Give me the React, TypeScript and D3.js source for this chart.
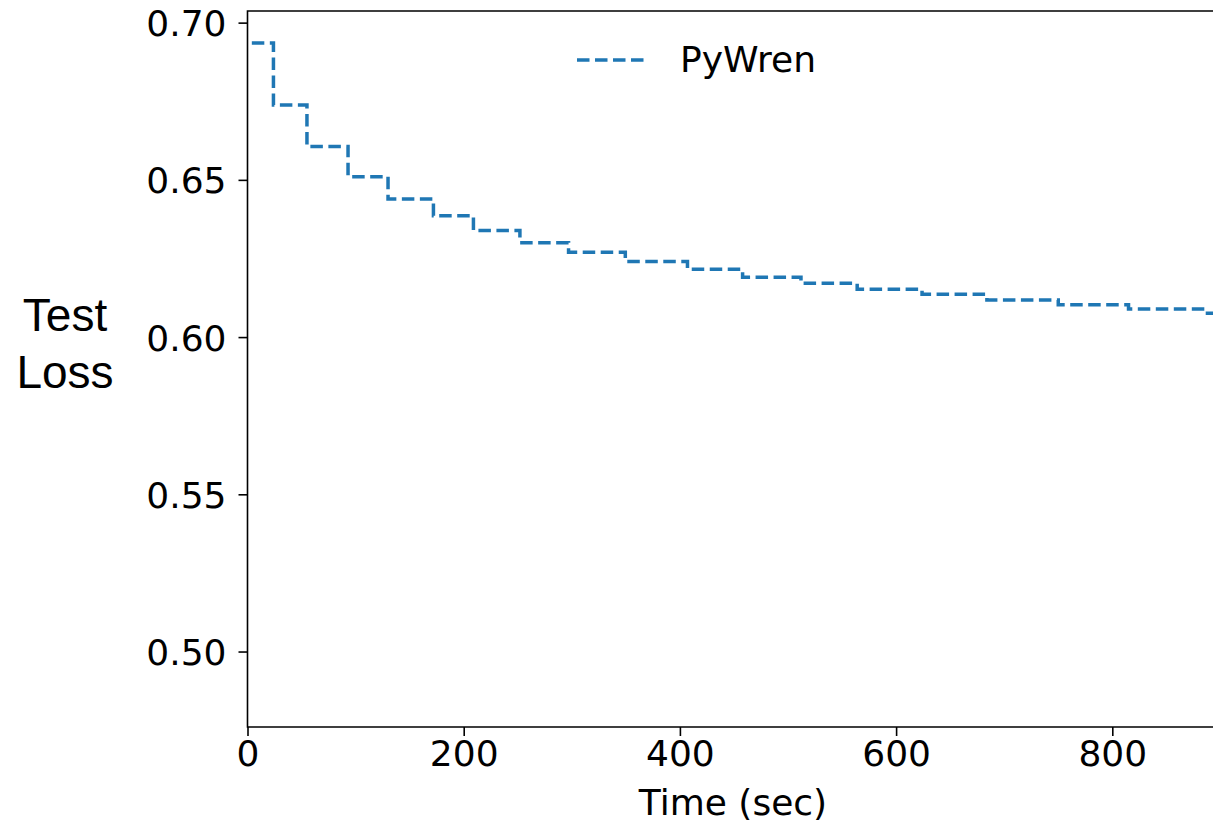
import React, { useRef, useEffect } from "react";
import * as d3 from "d3";

// step times (sec) and test loss after each step
const times = [4, 24, 55, 93, 130, 172, 209, 252, 297, 349.5, 407, 458, 512, 564, 624, 684, 750, 815, 883.5, 900];
const losses = [0.6935, 0.6738, 0.6606, 0.651, 0.6439, 0.6386, 0.6339, 0.63, 0.627, 0.624, 0.6216, 0.619, 0.6171, 0.6152, 0.6136, 0.6118, 0.6103, 0.6089, 0.6076, 0.6076];
const xTicks = [0, 200, 400, 600, 800];
const yTicks = [0.5, 0.55, 0.6, 0.65, 0.7];
const seriesName = "PyWren";

export default function App() {
  const ref = useRef<SVGSVGElement>(null);

  useEffect(() => {
    const width = 1213;
    const height = 824;
    const margin = { top: 11, right: -2, bottom: 97, left: 247.5 };
    const svg = d3.select(ref.current);
    svg.selectAll("*").remove();

    const x = d3
      .scaleLinear()
      .domain([0, 895])
      .range([margin.left, width - margin.right]);
    const y = d3
      .scaleLinear()
      .domain([0.476, 0.7037])
      .range([height - margin.bottom, margin.top]);

    const data = times.map((t, i) => ({ t, v: losses[i] }));

    svg
      .append("clipPath")
      .attr("id", "plot-clip")
      .append("rect")
      .attr("x", margin.left)
      .attr("y", margin.top)
      .attr("width", width - margin.left - margin.right)
      .attr("height", height - margin.top - margin.bottom);

    const line = d3
      .line<{ t: number; v: number }>()
      .x((d) => x(d.t))
      .y((d) => y(d.v))
      .curve(d3.curveStepAfter);

    svg
      .append("path")
      .datum(data)
      .attr("clip-path", "url(#plot-clip)")
      .attr("fill", "none")
      .attr("stroke", "#1f77b4")
      .attr("stroke-width", 3.5)
      .attr("stroke-dasharray", "12.5,5.5")
      .attr("d", line);

    // Axes
    const xAxis = svg
      .append("g")
      .attr("transform", `translate(0,${height - margin.bottom})`)
      .call(d3.axisBottom(x).tickValues(xTicks).tickSize(9).tickPadding(12).tickFormat(d3.format("d")));
    const yAxis = svg
      .append("g")
      .attr("transform", `translate(${margin.left},0)`)
      .call(d3.axisLeft(y).tickValues(yTicks).tickSize(9).tickPadding(12).tickFormat(d3.format(".2f")));

    [xAxis, yAxis].forEach((g) => {
      g.select(".domain").remove();
      g.selectAll("line").attr("stroke", "#000").attr("stroke-width", 1.6);
      g.selectAll("text")
        .attr("fill", "#000")
        .style("font-family", "DejaVu Sans")
        .style("font-size", "36px");
    });
    xAxis.selectAll("text").attr("dy", "0.5em");
    yAxis.selectAll("text").attr("dy", "0.36em");

    // Spines (left, bottom, top)
    svg
      .append("path")
      .attr("fill", "none")
      .attr("stroke", "#000")
      .attr("stroke-width", 1.6)
      .attr(
        "d",
        `M${width + 2},${margin.top}H${margin.left}V${height - margin.bottom}H${width + 2}`
      );

    // Legend
    svg
      .append("line")
      .attr("x1", 577)
      .attr("x2", 647)
      .attr("y1", 60)
      .attr("y2", 60)
      .attr("stroke", "#1f77b4")
      .attr("stroke-width", 3.5)
      .attr("stroke-dasharray", "12.5,5.5");
    svg
      .append("text")
      .attr("x", 680)
      .attr("y", 72)
      .style("font-family", "DejaVu Sans")
      .style("font-size", "36px")
      .text(seriesName);

    // X Axis Label
    svg
      .append("text")
      .attr("x", 733)
      .attr("y", 815)
      .attr("text-anchor", "middle")
      .style("font-family", "DejaVu Sans")
      .style("font-size", "36px")
      .text("Time (sec)");

    // Y Axis Label
    const yl = svg
      .append("text")
      .attr("text-anchor", "middle")
      .style("font-family", "Liberation Sans")
      .style("font-size", "46px");
    yl.append("tspan").attr("x", 65).attr("y", 331).text("Test");
    yl.append("tspan").attr("x", 65).attr("y", 388).text("Loss");
  }, []);

  return (
    <svg
      ref={ref}
      width={1213}
      height={824}
      style={{ position: "absolute", left: 0, top: 0, background: "#fff" }}
    />
  );
}
